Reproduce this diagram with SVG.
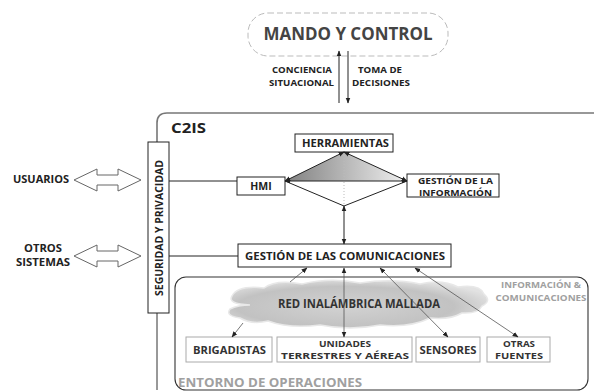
<svg xmlns="http://www.w3.org/2000/svg" width="594" height="392" viewBox="0 0 594 392">
<style>
text{font-family:"Open Sans","Liberation Sans",sans-serif;font-weight:bold;fill:#222}
.c{text-anchor:middle}
.box{fill:#fff;stroke:#222;stroke-width:1}
.gbox{fill:#fff;stroke:#aaa;stroke-width:1}
.ln{fill:none;stroke:#222;stroke-width:1}
.thin{fill:none;stroke:#555;stroke-width:0.8}
.grey{fill:#a0a0a0}
.harrow{fill:#fff;stroke:#666;stroke-width:1}
</style>
<defs>
<marker id="ah" viewBox="0 0 10 10" refX="9" refY="5" markerWidth="6" markerHeight="6" orient="auto-start-reverse" markerUnits="userSpaceOnUse">
<path d="M0,1 L10,5 L0,9 Z" fill="#222"/>
</marker>
<linearGradient id="tri" x1="0" y1="0" x2="1" y2="0">
<stop offset="0" stop-color="#808080"/>
<stop offset="1" stop-color="#f0f0f0"/>
</linearGradient>
<radialGradient id="cl" cx="0.45" cy="0.55" r="0.6">
<stop offset="0" stop-color="#d2d2d2"/>
<stop offset="0.7" stop-color="#c2c2c2"/>
<stop offset="1" stop-color="#e2e2e2"/>
</radialGradient>
</defs>

<g id="mando">
<rect x="248" y="13" width="200" height="43" rx="20" fill="#fff" stroke="#bbb" stroke-width="1" stroke-dasharray="6,3"/>
<text x="348" y="40" class="c" font-size="18" style="fill:#444" textLength="169" lengthAdjust="spacingAndGlyphs">MANDO Y CONTROL</text>
</g>

<g id="c2is-frame">
<path d="M157,142 V123 Q157,113 167,113 H594" fill="none" stroke="#777" stroke-width="1.6"/>
<line x1="157" y1="313" x2="157" y2="390" stroke="#333" stroke-width="1"/>
<text x="171" y="133" font-size="15" textLength="35" lengthAdjust="spacingAndGlyphs">C2IS</text>
</g>

<g id="seguridad">
<rect x="148" y="142" width="21" height="171" class="box"/>
<text transform="translate(162.5,228) rotate(-90)" class="c" font-size="10.5" textLength="136" lengthAdjust="spacingAndGlyphs">SEGURIDAD Y PRIVACIDAD</text>
</g>

<g id="usuarios">
<text x="41" y="183" class="c" font-size="10.5" textLength="56" lengthAdjust="spacingAndGlyphs">USUARIOS</text>
<polygon class="harrow" points="74,180 97,169 97,175 118,175 118,169 141,180 118,191 118,185 97,185 97,191"/>
</g>

<g id="otros">
<text x="43" y="252" class="c" font-size="10" textLength="38" lengthAdjust="spacingAndGlyphs">OTROS</text>
<text x="43" y="266" class="c" font-size="10" textLength="54" lengthAdjust="spacingAndGlyphs">SISTEMAS</text>
<polygon class="harrow" points="74,256 97,245 97,251 118,251 118,245 141,256 118,267 118,261 97,261 97,267"/>
</g>

<g id="herramientas">
<rect x="295" y="134" width="98" height="18" class="box"/>
<text x="345.5" y="147" class="c" font-size="10" textLength="87" lengthAdjust="spacingAndGlyphs">HERRAMIENTAS</text>
</g>

<g id="hmi">
<rect x="237" y="177" width="48" height="18" class="box"/>
<text x="261" y="190" class="c" font-size="10.5">HMI</text>
</g>

<g id="gestion-info">
<rect x="407" y="174" width="92" height="23" class="box"/>
<text x="455.5" y="184" class="c" font-size="9" textLength="75" lengthAdjust="spacingAndGlyphs">GESTIÓN DE LA</text>
<text x="455.5" y="195.5" class="c" font-size="9" textLength="73" lengthAdjust="spacingAndGlyphs">INFORMACIÓN</text>
</g>

<g id="gestion-com">
<rect x="238" y="244" width="213" height="23" class="box"/>
<text x="345" y="259.5" class="c" font-size="11" textLength="200" lengthAdjust="spacingAndGlyphs">GESTIÓN DE LAS COMUNICACIONES</text>
</g>

<g id="entorno">
<rect x="175" y="277" width="413" height="113" rx="11" fill="#fff" stroke="#333" stroke-width="1.1"/>
<text x="541" y="288" class="c grey" font-size="9.5" textLength="80" lengthAdjust="spacingAndGlyphs">INFORMACIÓN &amp;</text>
<text x="541" y="301" class="c grey" font-size="9.5" textLength="91" lengthAdjust="spacingAndGlyphs">COMUNICACIONES</text>
<text x="178" y="387" class="grey" font-size="12.5" textLength="184" lengthAdjust="spacingAndGlyphs">ENTORNO DE OPERACIONES</text>
</g>

<g id="red">
<path d="M232,296 Q238,285 264,288 Q276,279 302,284 Q330,277 360,283 Q392,278 420,284 Q442,279 458,287 Q480,284 484,294 Q492,301 482,306 Q478,314 462,313 Q450,320 430,318 Q410,328 380,325 Q350,331 320,325 Q290,329 268,321 Q252,325 240,318 Q225,316 230,309 Q238,305 250,305 Q227,304 232,296 Z" fill="url(#cl)" stroke="#e8e8e8" stroke-width="1.5"/>
<text x="359" y="308" class="c" font-size="11.5" style="fill:#333" textLength="162" lengthAdjust="spacingAndGlyphs">RED INALÁMBRICA MALLADA</text>
</g>

<g id="brigadistas">
<rect x="186" y="337" width="86" height="25" class="gbox"/>
<text x="229.5" y="354" class="c" font-size="10" style="fill:#333" textLength="73" lengthAdjust="spacingAndGlyphs">BRIGADISTAS</text>
</g>
<g id="unidades">
<rect x="277" y="337" width="135" height="25" class="gbox"/>
<text x="345" y="347" class="c" font-size="9.5" style="fill:#333" textLength="52" lengthAdjust="spacingAndGlyphs">UNIDADES</text>
<text x="345" y="359" class="c" font-size="9.5" style="fill:#333" textLength="128" lengthAdjust="spacingAndGlyphs">TERRESTRES Y AÉREAS</text>
</g>
<g id="sensores">
<rect x="416" y="337" width="64" height="25" class="gbox"/>
<text x="448" y="354" class="c" font-size="10" style="fill:#333" textLength="57" lengthAdjust="spacingAndGlyphs">SENSORES</text>
</g>
<g id="otras">
<rect x="487" y="337" width="63" height="25" class="gbox"/>
<text x="519" y="347" class="c" font-size="9.5" style="fill:#333" textLength="32" lengthAdjust="spacingAndGlyphs">OTRAS</text>
<text x="519" y="359" class="c" font-size="9.5" style="fill:#333" textLength="48" lengthAdjust="spacingAndGlyphs">FUENTES</text>
</g>

<g id="labels">
<text x="302" y="73" class="c" font-size="8.5" textLength="60" lengthAdjust="spacingAndGlyphs">CONCIENCIA</text>
<text x="301.5" y="86" class="c" font-size="8.5" textLength="65" lengthAdjust="spacingAndGlyphs">SITUACIONAL</text>
<text x="380" y="73" class="c" font-size="8.5" textLength="44" lengthAdjust="spacingAndGlyphs">TOMA DE</text>
<text x="381" y="86" class="c" font-size="8.5" textLength="58" lengthAdjust="spacingAndGlyphs">DECISIONES</text>
</g>

<g id="connectors">
<line x1="339" y1="103" x2="339" y2="51" class="ln" marker-end="url(#ah)"/>
<line x1="348" y1="51" x2="348" y2="103" class="ln" marker-end="url(#ah)"/>
<polygon points="285,181 344,152 407,181" fill="url(#tri)"/>
<line x1="344" y1="152" x2="344" y2="206" stroke="#bbb" stroke-width="1" stroke-dasharray="1,2"/>
<line x1="285" y1="181" x2="344" y2="152" class="ln" marker-start="url(#ah)" marker-end="url(#ah)"/>
<line x1="344" y1="152" x2="407" y2="181" class="ln" marker-start="url(#ah)" marker-end="url(#ah)"/>
<line x1="285" y1="181" x2="407" y2="181" class="ln" marker-start="url(#ah)" marker-end="url(#ah)"/>
<polyline points="285,181 344,206 407,181" class="ln"/>
<line x1="344" y1="206" x2="344" y2="244" class="ln" marker-start="url(#ah)" marker-end="url(#ah)"/>
<line x1="169" y1="181" x2="237" y2="181" class="ln"/>
<line x1="169" y1="256" x2="238" y2="256" class="ln"/>
<line x1="290" y1="282" x2="307" y2="268" class="thin" marker-end="url(#ah)"/>
<line x1="344" y1="268" x2="344" y2="337" class="thin" marker-start="url(#ah)" marker-end="url(#ah)"/>
<line x1="380" y1="268" x2="448" y2="337" class="thin" marker-start="url(#ah)" marker-end="url(#ah)"/>
<line x1="415" y1="268" x2="518" y2="337" class="thin" marker-start="url(#ah)" marker-end="url(#ah)"/>
<line x1="243" y1="323" x2="232" y2="337" class="thin" marker-end="url(#ah)"/>
</g>
</svg>
